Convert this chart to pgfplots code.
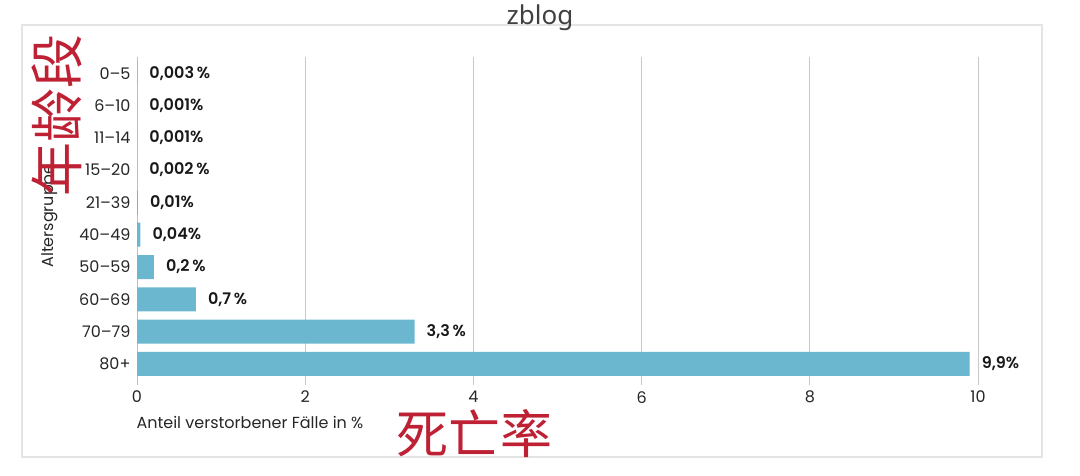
\documentclass[border=0pt]{standalone}
\usepackage{pgfplots}
\pgfplotsset{compat=1.18}
\usepackage{fontspec}
\setmainfont{Poppins}
\newfontfamily\medfont{Poppins SemiBold}
\newfontfamily\cjk{Noto Sans CJK SC}
\newfontfamily\titlefont{Noto Sans}
\definecolor{barblue}{RGB}{107,183,207}
\definecolor{gridgray}{RGB}{200,200,200}
\definecolor{cnred}{RGB}{190,32,52}
\definecolor{framegray}{RGB}{228,228,228}
\begin{document}
\begin{tikzpicture}
\begin{scope}[x=1pt,y=1pt]
\path[use as bounding box] (0,0) rectangle (1080,476);
\draw[framegray, line width=1.5pt] (22,19) rectangle (1042,451);
\node[font=\titlefont\fontsize{26}{28}\selectfont, text=black!75] at (540,458) {zblog};
\end{scope}
\begin{axis}[
  at={(137pt,91pt)}, anchor=south west, scale only axis,
  width=841pt, height=328pt,
  xbar, bar width=24pt,
  xmin=0, xmax=10, ymin=-0.5, ymax=9.65, y dir=reverse,
  xtick={0,2,...,10}, ytick={0,...,9},
  yticklabels={0–5,6–10,11–14,15–20,21–39,40–49,50–59,60–69,70–79,80+},
  /pgf/number format/assume math mode=true,
  axis line style={draw=none}, major tick length=0pt,
  xmajorgrids, grid style={gridgray, line width=0.8pt},
  tick label style={font=\fontsize{16}{18}\selectfont, text=black!85},
  xticklabel style={inner sep=1pt, yshift=-5pt},
  yticklabel style={xshift=-3pt},
  point meta=explicit symbolic,
  nodes near coords,
  nodes near coords style={anchor=west, inner sep=0pt, xshift=12pt,
    font=\medfont\fontsize{16}{18}\selectfont, text=black!90},
  clip=false,
]
\draw[barblue!70, line width=0.8pt] (axis cs:0,-0.5) -- (axis cs:0,9.65);
\addplot[draw=none, fill=barblue] coordinates {
  (0.003,0) [0,003\,\%]
  (0.001,1) [0,001\%]
  (0.001,2) [0,001\%]
  (0.002,3) [0,002\,\%]
  (0.01,4) [0,01\%]
  (0.04,5) [0,04\%]
  (0.2,6) [0,2\,\%]
  (0.7,7) [0,7\,\%]
  (3.3,8) [3,3\,\%]
  (9.9,9) [9,9\%]
};
\end{axis}
\begin{scope}[x=1pt,y=1pt]
\node[anchor=west, font=\fontsize{16}{18}\selectfont, text=black!85] at (133,53) {Anteil verstorbener Fälle in \%};
\node[rotate=90, font=\fontsize{16}{18}\selectfont, text=black!85] at (50,260) {Altersgruppe};
\node[rotate=90, inner sep=0pt, text=cnred, font=\cjk\fontsize{54}{54}\selectfont] at (57,360) {年龄段};
\node[inner sep=0pt, text=cnred, font=\cjk\fontsize{52}{52}\selectfont] at (474,42) {死亡率};
\end{scope}
\end{tikzpicture}
\end{document}
